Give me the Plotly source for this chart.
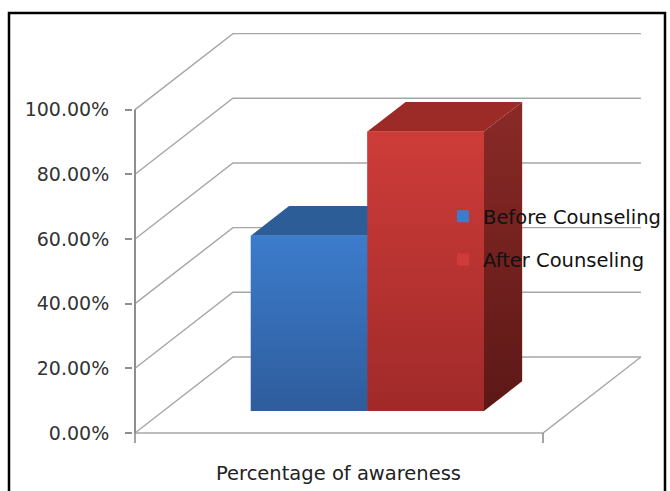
import plotly.graph_objects as go

# ---- data -------------------------------------------------------------
category = "Percentage of awareness"
series_names = ["Before Counseling", "After Counseling"]
series_values = [0.542, 0.864]
tick_values = [0.0, 0.2, 0.4, 0.6, 0.8, 1.0]

# ---- styling ----------------------------------------------------------
front_top = ["#3C7CCC", "#CE3C39"]
front_bottom = ["#2E5C9C", "#A02A29"]
top_face = ["#2D5D97", "#9C2A27"]
side_top = ["#2A558C", "#8A2A27"]
side_bottom = ["#1F4270", "#5C1816"]
grid_color = "#A6A6A6"
axis_color = "#8E8E8E"
font_family = "DejaVu Sans"

# oblique projection of the 3-D box: depth axis shifts points right and up
DX = 0.240   # horizontal shift of the back wall (category units)
DV = 0.235   # vertical shift of the back wall (value units)
F0, F1 = 0.29, 0.68   # bar depth, as fractions of the floor depth
gap = 1.5             # gap width relative to one bar
bar_w = 1.0 / (len(series_values) + gap)
start = gap * bar_w / 2


def proj(x, v, d):
    return x + d * DX, v + d * DV


fig = go.Figure()


def add_line(xs, ys, color=grid_color, width=1.4):
    fig.add_trace(go.Scatter(x=xs, y=ys, mode="lines", hoverinfo="skip",
                             line=dict(color=color, width=width),
                             showlegend=False))


# walls: side-wall and back-wall gridlines at every tick value
for v in tick_values:
    bx, bv = proj(0, v, 1)
    ex, ev = proj(1, v, 1)
    add_line([0, bx, ex], [v, bv, ev])

# floor: front edge and right edge
fx, fv = proj(1, 0, 1)
add_line([0, 1, fx], [0, 0, fv])
# value axis line and category tick marks
add_line([0, 0], [0, 1], color=axis_color, width=2)
add_line([0, 0], [0, -0.031], color=axis_color, width=1.6)
add_line([1, 1], [0, -0.031], color=axis_color, width=1.6)


def poly(pts, **kw):
    xs = [p[0] for p in pts] + [pts[0][0]]
    ys = [p[1] for p in pts] + [pts[0][1]]
    fig.add_trace(go.Scatter(x=xs, y=ys, mode="lines", fill="toself",
                             line=dict(width=0), hoverinfo="skip",
                             showlegend=False, **kw))


for i, (name, val) in enumerate(zip(series_names, series_values)):
    x0 = start + i * bar_w
    x1 = x0 + bar_w
    # right side face
    poly([proj(x1, 0, F0), proj(x1, 0, F1), proj(x1, val, F1), proj(x1, val, F0)],
         fillgradient=dict(type="vertical",
                           colorscale=[[0, side_bottom[i]], [1, side_top[i]]]))
    # top face
    poly([proj(x0, val, F0), proj(x1, val, F0), proj(x1, val, F1), proj(x0, val, F1)],
         fillcolor=top_face[i])
    # front face (the bar itself)
    cx, base = proj((x0 + x1) / 2, 0, F0)
    fig.add_trace(go.Bar(x=[cx], y=[val], base=[base], width=[bar_w],
                         name=name, marker=dict(color=front_top[i], line=dict(width=0)),
                         legendgroup=name, hoverinfo="skip"))
    # vertical shading over the front face
    poly([proj(x0, 0, F0), proj(x1, 0, F0), proj(x1, val, F0), proj(x0, val, F0)],
         fillgradient=dict(type="vertical",
                           colorscale=[[0, front_bottom[i]], [1, front_top[i]]]))

# ---- layout -----------------------------------------------------------
PX_X = 408.0   # pixels per category unit
PX_V = 323.4   # pixels per value unit
L, R, T, B = 133, 668, 28, 445
W, H = 670, 491
x_range = [-(135 - L) / PX_X, (R - 135) / PX_X]
y_range = [-(B - 433) / PX_V, (433 - T) / PX_V]


def px_to_paper(px, py):
    return (px - L) / (R - L), (B - py) / (B - T)


fx0, fy0 = px_to_paper(9, 500)
fx1, fy1 = px_to_paper(665, 13)
ax, ay = px_to_paper(338, 473)

fig.update_layout(
    width=W, height=H,
    margin=dict(l=L, r=W - R, t=T, b=H - B),
    paper_bgcolor="white", plot_bgcolor="white",
    barmode="overlay",
    showlegend=True,
    legend=dict(x=px_to_paper(443, 0)[0], y=px_to_paper(0, 197)[1],
                xanchor="left", yanchor="top", bgcolor="rgba(0,0,0,0)",
                traceorder="grouped", tracegroupgap=15,
                font=dict(family=font_family, size=19.5, color="#111111")),
    xaxis=dict(range=x_range, showgrid=False, zeroline=False, showline=False,
               showticklabels=False, ticks="", fixedrange=True),
    yaxis=dict(range=y_range, showgrid=False, zeroline=False, showline=False,
               tickvals=tick_values, tickformat=".2%", ticks="outside",
               ticklen=7, tickwidth=1.6, tickcolor=axis_color,
               ticklabelstandoff=12,
               tickfont=dict(family=font_family, size=19, color="#333333"),
               fixedrange=True),
    annotations=[dict(text=category, x=ax, y=ay, xref="paper", yref="paper",
                      showarrow=False, xanchor="center", yanchor="middle",
                      font=dict(family=font_family, size=19.5, color="#222222"))],
    shapes=[dict(type="rect", xref="paper", yref="paper",
                 x0=fx0, y0=fy0, x1=fx1, y1=fy1,
                 line=dict(color="black", width=2.5), layer="above")],
)

fig.write_html("out.html")
